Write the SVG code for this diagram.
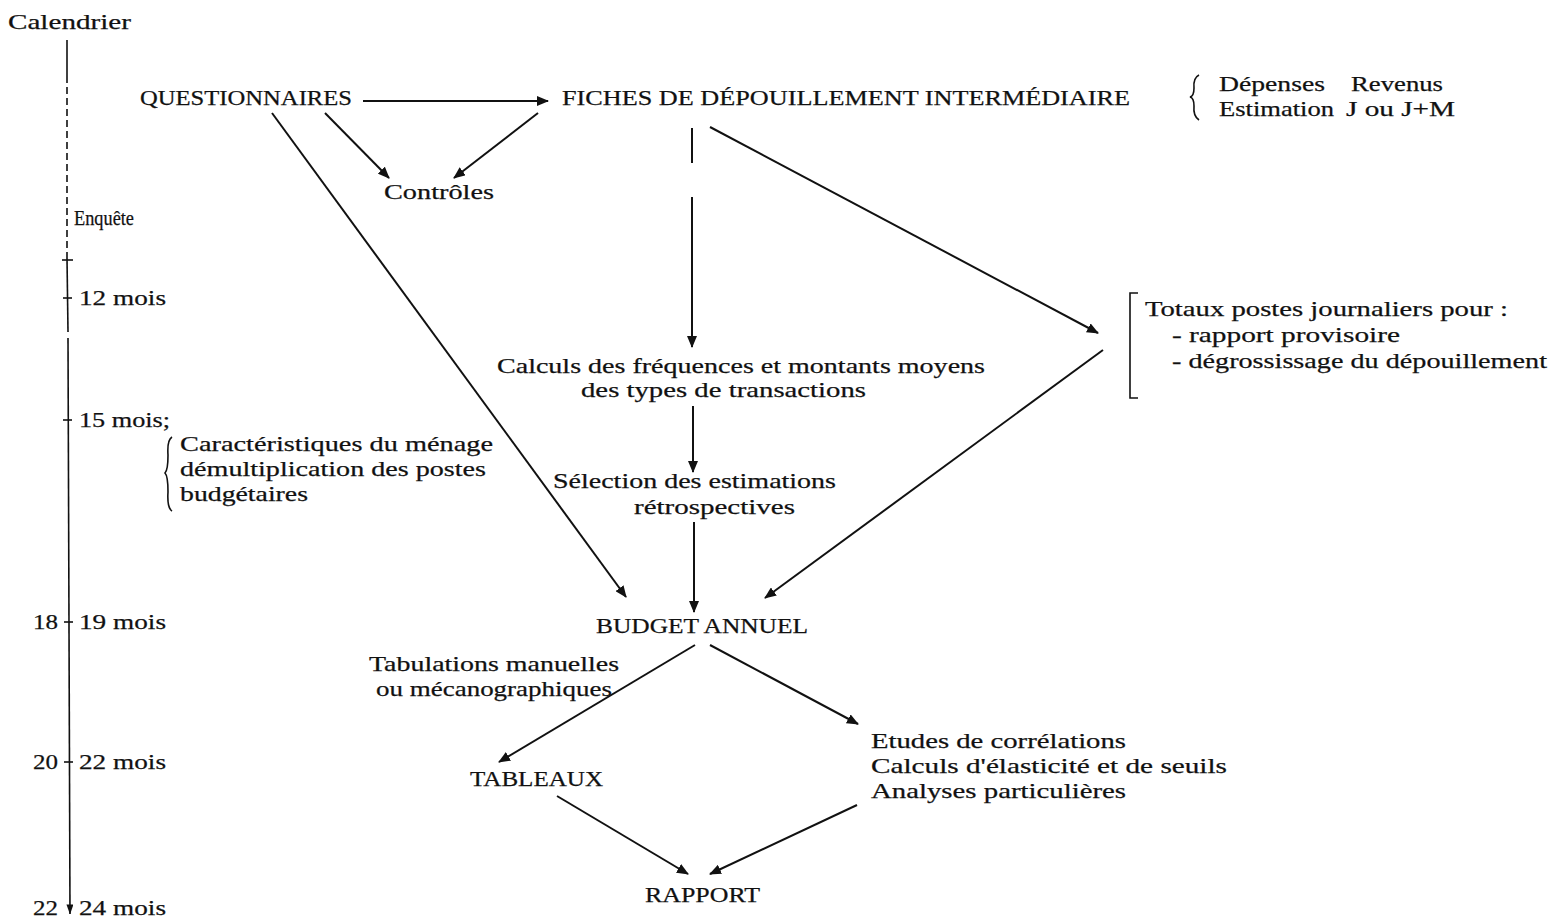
<svg xmlns="http://www.w3.org/2000/svg" width="1553" height="919" viewBox="0 0 1553 919">
<style>
text{font-family:"Liberation Serif","DejaVu Serif",serif;font-size:22px;fill:#111;stroke:#111;stroke-width:0.25}
.ln{stroke:#111;stroke-width:2;fill:none}
.th{stroke:#111;stroke-width:1.6;fill:none}
</style>
<defs>
<marker id="ah" viewBox="0 0 12 10" refX="11" refY="5" markerWidth="12" markerHeight="10" markerUnits="userSpaceOnUse" orient="auto">
<path d="M0,0 L12,5 L0,10 z" fill="#111"/>
</marker>
<marker id="ahs" viewBox="0 0 10 7" refX="9.5" refY="3.5" markerWidth="10" markerHeight="7" markerUnits="userSpaceOnUse" orient="auto">
<path d="M0,0 L10,3.5 L0,7 z" fill="#111"/>
</marker>
</defs>
<rect width="1553" height="919" fill="#fff"/>

<g id="calendar">
<text x="8" y="29" textLength="123" lengthAdjust="spacingAndGlyphs">Calendrier</text>
<line class="th" x1="67" y1="40" x2="67" y2="76"/>
<line class="th" x1="67" y1="76" x2="67" y2="258" stroke-dasharray="7,4"/>
<line class="th" x1="67" y1="258" x2="68" y2="332"/>
<line class="th" x1="68" y1="338" x2="70" y2="914" marker-end="url(#ahs)"/>
<line class="th" x1="62" y1="260" x2="73" y2="260"/>
<line class="th" x1="63" y1="298" x2="72" y2="298"/>
<line class="th" x1="63" y1="420" x2="72" y2="420"/>
<line class="th" x1="64" y1="622" x2="73" y2="622"/>
<line class="th" x1="64" y1="762" x2="73" y2="762"/>
<text x="74" y="225" textLength="60" lengthAdjust="spacingAndGlyphs">Enquête</text>
<text x="79" y="305" textLength="87" lengthAdjust="spacingAndGlyphs">12 mois</text>
<text x="79" y="427" textLength="91" lengthAdjust="spacingAndGlyphs">15 mois;</text>
<text x="33" y="629" textLength="25" lengthAdjust="spacingAndGlyphs">18</text>
<text x="79" y="629" textLength="87" lengthAdjust="spacingAndGlyphs">19 mois</text>
<text x="33" y="769" textLength="25" lengthAdjust="spacingAndGlyphs">20</text>
<text x="79" y="769" textLength="87" lengthAdjust="spacingAndGlyphs">22 mois</text>
<text x="33" y="915" textLength="25" lengthAdjust="spacingAndGlyphs">22</text>
<text x="79" y="915" textLength="87" lengthAdjust="spacingAndGlyphs">24 mois</text>
</g>

<g id="questionnaires">
<text x="140" y="105" textLength="212" lengthAdjust="spacingAndGlyphs">QUESTIONNAIRES</text>
</g>

<g id="fiches">
<text x="562" y="105" textLength="568" lengthAdjust="spacingAndGlyphs">FICHES DE DÉPOUILLEMENT INTERMÉDIAIRE</text>
</g>

<g id="fiches-note">
<path class="th" d="M1199,75 Q1193,78 1194,88 Q1194,96 1190,97 Q1194,98 1194,106 Q1193,116 1199,120"/>
<text x="1219" y="91" textLength="106" lengthAdjust="spacingAndGlyphs">Dépenses</text>
<text x="1351" y="91" textLength="92" lengthAdjust="spacingAndGlyphs">Revenus</text>
<text x="1219" y="116" textLength="115" lengthAdjust="spacingAndGlyphs">Estimation</text>
<text x="1346" y="116" textLength="109" lengthAdjust="spacingAndGlyphs">J ou J+M</text>
</g>

<g id="controles">
<text x="384" y="199" textLength="110" lengthAdjust="spacingAndGlyphs">Contrôles</text>
</g>

<g id="menage-note">
<path class="th" d="M172,437 Q167,440 168,455 Q168,470 165,473 Q168,476 168,492 Q167,508 172,511"/>
<text x="180" y="451" textLength="313" lengthAdjust="spacingAndGlyphs">Caractéristiques du ménage</text>
<text x="180" y="476" textLength="306" lengthAdjust="spacingAndGlyphs">démultiplication des postes</text>
<text x="180" y="501" textLength="128" lengthAdjust="spacingAndGlyphs">budgétaires</text>
</g>

<g id="totaux">
<path class="th" d="M1138,293 L1130,293 L1130,398 L1138,398"/>
<text x="1145" y="316" textLength="363" lengthAdjust="spacingAndGlyphs">Totaux postes journaliers pour :</text>
<text x="1172" y="342" textLength="228" lengthAdjust="spacingAndGlyphs">- rapport provisoire</text>
<text x="1172" y="368" textLength="375" lengthAdjust="spacingAndGlyphs">- dégrossissage du dépouillement</text>
</g>

<g id="calculs">
<text x="497" y="373" textLength="488" lengthAdjust="spacingAndGlyphs">Calculs des fréquences et montants moyens</text>
<text x="581" y="397" textLength="285" lengthAdjust="spacingAndGlyphs">des types de transactions</text>
</g>

<g id="selection">
<text x="553" y="488" textLength="283" lengthAdjust="spacingAndGlyphs">Sélection des estimations</text>
<text x="634" y="514" textLength="161" lengthAdjust="spacingAndGlyphs">rétrospectives</text>
</g>

<g id="budget">
<text x="596" y="633" textLength="212" lengthAdjust="spacingAndGlyphs">BUDGET ANNUEL</text>
</g>

<g id="tabulations-label">
<text x="369" y="671" textLength="250" lengthAdjust="spacingAndGlyphs">Tabulations manuelles</text>
<text x="376" y="696" textLength="236" lengthAdjust="spacingAndGlyphs">ou mécanographiques</text>
</g>

<g id="tableaux">
<text x="470" y="786" textLength="133" lengthAdjust="spacingAndGlyphs">TABLEAUX</text>
</g>

<g id="etudes">
<text x="871" y="748" textLength="255" lengthAdjust="spacingAndGlyphs">Etudes de corrélations</text>
<text x="871" y="773" textLength="356" lengthAdjust="spacingAndGlyphs">Calculs d'élasticité et de seuils</text>
<text x="871" y="798" textLength="255" lengthAdjust="spacingAndGlyphs">Analyses particulières</text>
</g>

<g id="rapport">
<text x="645" y="902" textLength="115" lengthAdjust="spacingAndGlyphs">RAPPORT</text>
</g>

<g id="connectors">
<line class="ln" x1="363" y1="101" x2="548" y2="101" marker-end="url(#ah)"/>
<line class="ln" x1="325" y1="113" x2="389" y2="178" marker-end="url(#ah)"/>
<line class="ln" x1="538" y1="113" x2="454" y2="178" marker-end="url(#ah)"/>
<line class="ln" x1="272" y1="113" x2="626" y2="597" marker-end="url(#ah)"/>
<line class="ln" x1="692" y1="128" x2="692" y2="163"/>
<line class="ln" x1="692" y1="197" x2="692" y2="347" marker-end="url(#ah)"/>
<line class="ln" x1="710" y1="127" x2="1098" y2="333" marker-end="url(#ah)"/>
<line class="ln" x1="1103" y1="350" x2="765" y2="598" marker-end="url(#ah)"/>
<line class="ln" x1="693" y1="406" x2="693" y2="472" marker-end="url(#ah)"/>
<line class="ln" x1="694" y1="522" x2="694" y2="612" marker-end="url(#ah)"/>
<line class="ln" x1="695" y1="645" x2="499" y2="762" marker-end="url(#ah)"/>
<line class="ln" x1="710" y1="645" x2="858" y2="724" marker-end="url(#ah)"/>
<line class="ln" x1="557" y1="796" x2="688" y2="874" marker-end="url(#ah)"/>
<line class="ln" x1="857" y1="805" x2="710" y2="874" marker-end="url(#ah)"/>
</g>
</svg>
